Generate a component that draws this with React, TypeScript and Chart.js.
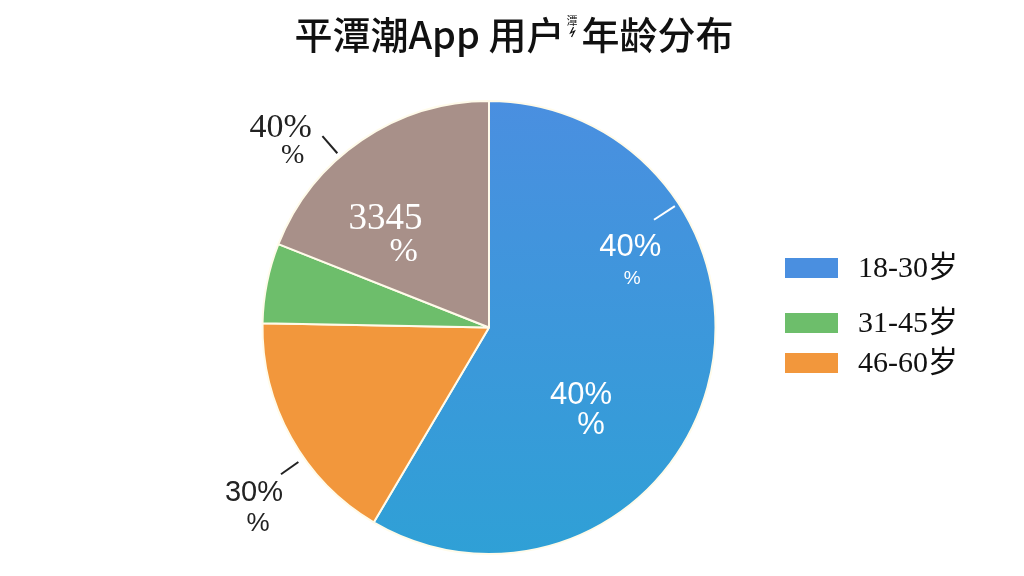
import { useEffect, useRef } from 'react';
import { Chart, registerables } from 'chart.js';

Chart.register(...registerables);

// ---- data ----
const categories = ['18-30岁', '46-60岁', '31-45岁', '其他'];
const shares = [58.5, 16.8, 5.7, 19.0];
const colors = ['#4A8FE0', '#F2973C', '#6DBE6B', '#A89089'];
const blueBottom = '#2FA0D6';
const legendOrder = [0, 2, 1];
const titleHead = '平潭潮App 用户';
const titleGlyph = '潭';
const titleTail = '年龄分布';

// annotation texts attached to slices: slice, fraction along arc, radius fraction, lines
const labelSlice = [0, 0, 3, 3, 1];
const labelArcFrac = [0.287, 0.6, 0.36, 0.324, 0.4];
const labelRadFrac = [0.717, 0.504, 0.66, 1.273, 1.27];
const labelLine1 = ['40%', '40%', '3345', '40%', '30%'];
const labelLine2 = ['%', '%', '%', '%', '%'];
const labelOffset2 = [[2, 31], [10, 30], [18, 33], [12, 28], [4, 30]];
const labelFont1 = [
  '31px "Liberation Sans", sans-serif',
  '31px "Liberation Sans", sans-serif',
  '37px "Liberation Serif", serif',
  '34px "Liberation Serif", serif',
  '29px "Liberation Sans", sans-serif',
];
const labelFont2 = [
  '19px "Liberation Sans", sans-serif',
  '31px "Liberation Sans", sans-serif',
  '34px "Liberation Serif", serif',
  '28px "Liberation Serif", serif',
  '26px "Liberation Sans", sans-serif',
];
const labelColor = ['#ffffff', '#ffffff', '#ffffff', '#222222', '#222222'];

// leader lines: slice, arc fraction, inner/outer radius fraction, color
const leaderSlice = [0, 3, 1];
const leaderArcFrac = [0.27, 0.4, 0.4];
const leaderR0 = [0.87, 1.02, 1.03];
const leaderR1 = [0.98, 1.12, 1.124];
const leaderColor = ['#ffffff', '#222222', '#222222'];

const overlayPlugin = {
  id: 'overlay',
  afterDraw(chart: any) {
    const ctx = chart.ctx as CanvasRenderingContext2D;
    const meta = chart.getDatasetMeta(0);
    const arcPoint = (i: number, f: number, rf: number) => {
      const el = meta.data[i] as any;
      const a = el.startAngle + f * (el.endAngle - el.startAngle);
      const r = el.outerRadius * rf;
      return [el.x + Math.cos(a) * r, el.y + Math.sin(a) * r];
    };
    ctx.save();
    // leader lines
    for (let k = 0; k < leaderSlice.length; k++) {
      const p0 = arcPoint(leaderSlice[k], leaderArcFrac[k], leaderR0[k]);
      const p1 = arcPoint(leaderSlice[k], leaderArcFrac[k], leaderR1[k]);
      ctx.strokeStyle = leaderColor[k];
      ctx.lineWidth = 2;
      ctx.beginPath();
      ctx.moveTo(p0[0], p0[1]);
      ctx.lineTo(p1[0], p1[1]);
      ctx.stroke();
    }
    // labels
    ctx.textAlign = 'center';
    ctx.textBaseline = 'middle';
    for (let k = 0; k < labelSlice.length; k++) {
      const p = arcPoint(labelSlice[k], labelArcFrac[k], labelRadFrac[k]);
      ctx.fillStyle = labelColor[k];
      ctx.font = labelFont1[k];
      ctx.fillText(labelLine1[k], p[0], p[1]);
      ctx.font = labelFont2[k];
      ctx.fillText(labelLine2[k], p[0] + labelOffset2[k][0], p[1] + labelOffset2[k][1]);
    }
    // title
    const big = '500 38px "Noto Sans CJK SC", sans-serif';
    const small = '11px "Noto Sans CJK SC", sans-serif';
    ctx.textAlign = 'left';
    ctx.textBaseline = 'middle';
    ctx.fillStyle = '#111111';
    ctx.font = big;
    const w1 = ctx.measureText(titleHead).width;
    const w3 = ctx.measureText(titleTail).width;
    ctx.font = small;
    const w2 = ctx.measureText(titleGlyph).width + 6;
    let x = 514 - (w1 + w2 + w3) / 2;
    ctx.font = big;
    ctx.fillText(titleHead, x, 35);
    x += w1;
    ctx.font = small;
    ctx.fillText(titleGlyph, x + 2, 21);
    ctx.lineWidth = 1.2;
    ctx.strokeStyle = '#111111';
    ctx.beginPath();
    ctx.moveTo(x + 9, 27);
    ctx.lineTo(x + 6, 33);
    ctx.lineTo(x + 10, 31);
    ctx.lineTo(x + 7, 37);
    ctx.stroke();
    x += w2;
    ctx.font = big;
    ctx.fillText(titleTail, x, 35);
    // legend
    const rowY = [268, 323, 363];
    ctx.font = '30px "Liberation Serif", "Noto Sans CJK SC", serif';
    legendOrder.forEach((idx, r) => {
      ctx.fillStyle = colors[idx];
      ctx.fillRect(785, rowY[r] - 10, 53, 20);
      ctx.fillStyle = '#111111';
      ctx.fillText(categories[idx], 858, rowY[r] + 1);
    });
    ctx.restore();
  },
};

export default function App() {
  const ref = useRef<HTMLCanvasElement>(null);
  useEffect(() => {
    if (!ref.current) return;
    const chart = new Chart(ref.current, {
      type: 'pie',
      data: {
        labels: categories,
        datasets: [
          {
            data: shares,
            backgroundColor: (c: any) => {
              const i = c.dataIndex;
              if (i === 0 && c.chart.chartArea) {
                const area = c.chart.chartArea;
                const g = c.chart.ctx.createLinearGradient(0, area.top, 0, area.bottom);
                g.addColorStop(0, colors[0]);
                g.addColorStop(1, blueBottom);
                return g;
              }
              return colors[i];
            },
            borderColor: '#FFFBEA',
            borderWidth: 2,
          },
        ],
      },
      options: {
        responsive: false,
        animation: false,
        layout: { padding: { top: 100, bottom: 21, left: 261, right: 307 } },
        plugins: {
          legend: { display: false },
          title: { display: false },
          tooltip: { enabled: false },
        },
      },
      plugins: [overlayPlugin],
    });
    return () => chart.destroy();
  }, []);
  return (
    <div style={{ position: 'absolute', left: 0, top: 0, width: 1024, height: 576, background: '#ffffff' }}>
      <canvas ref={ref} width={1024} height={576} />
    </div>
  );
}
